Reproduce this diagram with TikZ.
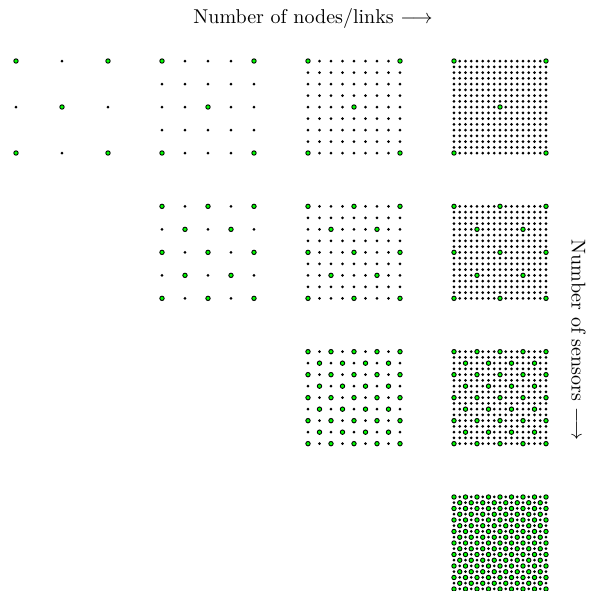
\documentclass[tikz,border=0pt]{standalone}
\usetikzlibrary{calc}
\tikzset{
  blackdot/.style={fill=black},
  greendot/.style={fill=green, draw=black, line width=0.45pt},
  axislabel/.style={inner sep=0pt, font=\normalsize},
}
\begin{document}
\begin{tikzpicture}[x=0.5pt,y=-0.5pt]
\useasboundingbox (0,0) rectangle (590,591);
\node[axislabel] (xlabel) at (313,18) {Number of nodes/links $\longrightarrow$};
\node[axislabel, rotate=-90] (ylabel) at (578.5,340) {Number of sensors $\longrightarrow$};
\foreach \r in {0,...,3}{
  \foreach \c in {\r,...,3}{
    \pgfmathtruncatemacro\N{2^(\c+1)}
    \pgfmathtruncatemacro\s{2^(\c-\r+1)}
    \pgfmathtruncatemacro\h{\s/2}
    \pgfmathsetmacro\xo{16+146*\c}
    \pgfmathsetmacro\yo{61+145.33*\r}
    \pgfmathsetmacro\d{92/\N}
    \foreach \i in {0,...,\N}{
      \foreach \j in {0,...,\N}{
        \pgfmathtruncatemacro\g{((mod(\i,\s)==0 && mod(\j,\s)==0) || (mod(\i,\s)==\h && mod(\j,\s)==\h)) ? 1 : 0}
        \ifnum\g=1
          \path[greendot] (\xo+\i*\d,\yo+\j*\d) circle[radius=1.1pt];
        \else
          \path[blackdot] (\xo+\i*\d,\yo+\j*\d) circle[radius=0.75pt];
        \fi
      }
    }
  }
}
\end{tikzpicture}
\end{document}
